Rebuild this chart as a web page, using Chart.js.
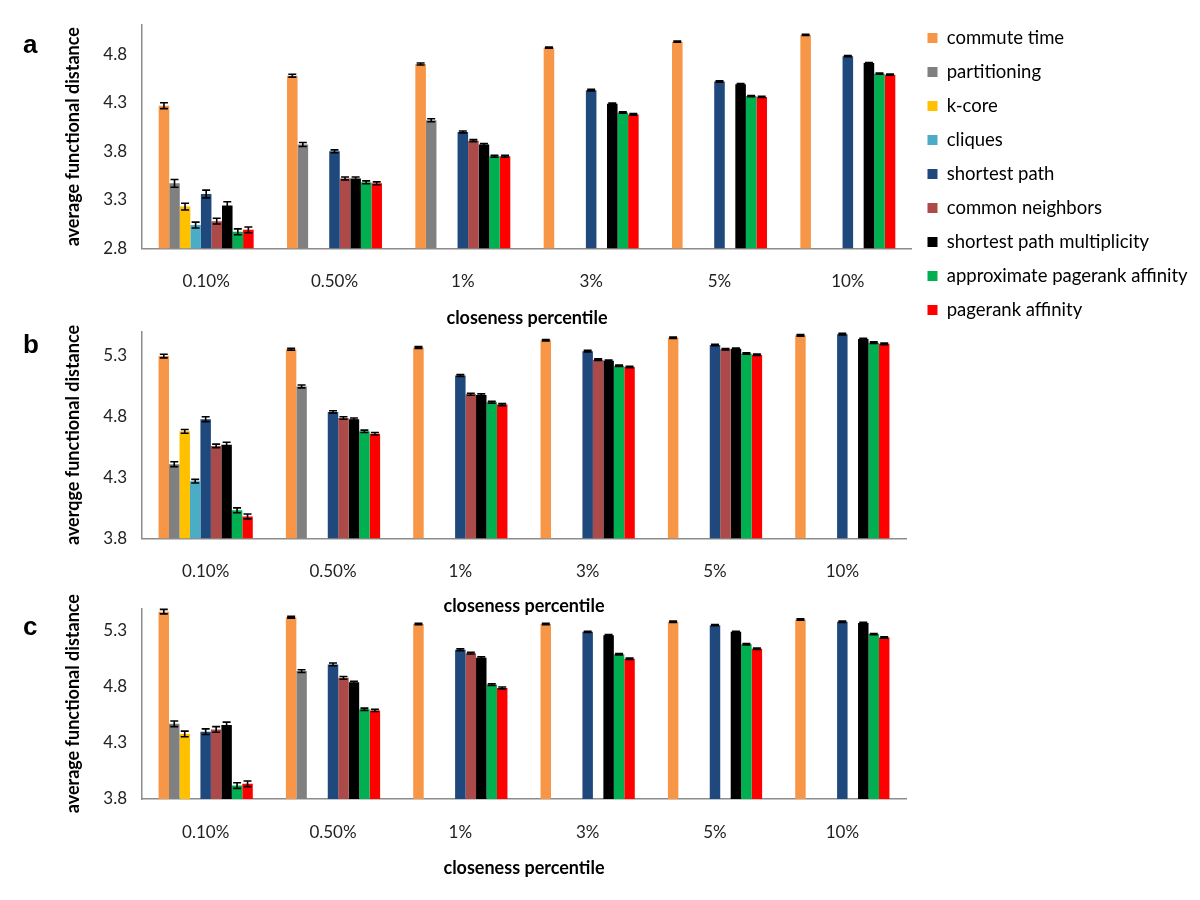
<!DOCTYPE html>
<html>
<head>
<meta charset="utf-8">
<script src="https://cdn.jsdelivr.net/npm/chart.js@4.4.0/dist/chart.umd.min.js"></script>
<style>
  html, body { margin: 0; padding: 0; background: #ffffff; }
  #wrap { position: relative; width: 1200px; height: 900px; overflow: hidden; }
  #wrap canvas { position: absolute; left: 0; top: 0; }
  .lbl { position: absolute; font: bold 26px "Liberation Sans", Arial, sans-serif; line-height: 26px; color: #000; }
</style>
</head>
<body>
<div id="wrap">
  <canvas id="ca" width="1200" height="900"></canvas>
  <canvas id="cb" width="1200" height="900"></canvas>
  <canvas id="cc" width="1200" height="900"></canvas>
  <div class="lbl" style="left:23px;top:31px">a</div>
  <div class="lbl" style="left:23px;top:331px">b</div>
  <div class="lbl" style="left:23px;top:613px">c</div>
</div>
<script>
// ---------------- DATA ----------------
const categories = ['0.10%', '0.50%', '1%', '3%', '5%', '10%'];
const seriesNames = ['commute time', 'partitioning', 'k-core', 'cliques', 'shortest path',
  'common neighbors', 'shortest path multiplicity', 'approximate pagerank affinity', 'pagerank affinity'];
const seriesColors = ['#F79646', '#808080', '#FFC000', '#4BACC6', '#1F497D',
  '#AB4A48', '#000000', '#00B050', '#FF0000'];

// panel a (rows follow seriesNames, columns follow categories)
const valuesA = [
  [4.27, 4.58, 4.70, 4.87, 4.93, 5.00],
  [3.47, 3.87, 4.12, null, null, null],
  [3.23, null, null, null, null, null],
  [3.04, null, null, null, null, null],
  [3.36, 3.80, 4.00, 4.43, 4.52, 4.78],
  [3.08, 3.52, 3.91, null, null, null],
  [3.24, 3.52, 3.87, 4.29, 4.49, 4.71],
  [2.97, 3.48, 3.75, 4.20, 4.37, 4.60],
  [2.99, 3.47, 3.75, 4.18, 4.36, 4.59]
];
const errorsA = [
  [0.03, 0.015, 0.01, 0.006, 0.006, 0.006],
  [0.04, 0.02, 0.015, null, null, null],
  [0.035, null, null, null, null, null],
  [0.03, null, null, null, null, null],
  [0.04, 0.015, 0.01, 0.008, 0.008, 0.006],
  [0.03, 0.015, 0.01, null, null, null],
  [0.04, 0.015, 0.01, 0.008, 0.008, 0.006],
  [0.03, 0.015, 0.01, 0.008, 0.006, 0.006],
  [0.03, 0.015, 0.01, 0.008, 0.006, 0.006]
];
const yTicksA = [2.8, 3.3, 3.8, 4.3, 4.8];

// panel b
const valuesB = [
  [5.30, 5.355, 5.37, 5.43, 5.45, 5.47],
  [4.41, 5.05, null, null, null, null],
  [4.68, null, null, null, null, null],
  [4.27, null, null, null, null, null],
  [4.78, 4.84, 5.14, 5.34, 5.39, 5.48],
  [4.56, 4.79, 4.985, 5.27, 5.355, null],
  [4.57, 4.78, 4.98, 5.26, 5.36, 5.44],
  [4.03, 4.68, 4.92, 5.22, 5.32, 5.41],
  [3.98, 4.66, 4.90, 5.21, 5.31, 5.40]
];
const errorsB = [
  [0.015, 0.008, 0.007, 0.006, 0.006, 0.006],
  [0.02, 0.012, null, null, null, null],
  [0.015, null, null, null, null, null],
  [0.015, null, null, null, null, null],
  [0.02, 0.01, 0.008, 0.006, 0.006, 0.006],
  [0.015, 0.01, 0.008, 0.006, 0.006, null],
  [0.02, 0.01, 0.008, 0.006, 0.006, 0.006],
  [0.02, 0.01, 0.008, 0.006, 0.006, 0.006],
  [0.02, 0.01, 0.008, 0.006, 0.006, 0.006]
];
const yTicksB = [3.8, 4.3, 4.8, 5.3];

// panel c
const valuesC = [
  [5.47, 5.42, 5.36, 5.36, 5.38, 5.40],
  [4.47, 4.94, null, null, null, null],
  [4.38, null, null, null, null, null],
  [null, null, null, null, null, null],
  [4.40, 5.00, 5.13, 5.29, 5.35, 5.38],
  [4.42, 4.88, 5.10, null, null, null],
  [4.46, 4.84, 5.06, 5.26, 5.29, 5.37],
  [3.92, 4.60, 4.82, 5.09, 5.18, 5.27],
  [3.935, 4.59, 4.79, 5.05, 5.14, 5.24]
];
const errorsC = [
  [0.02, 0.008, 0.006, 0.006, 0.006, 0.006],
  [0.025, 0.012, null, null, null, null],
  [0.025, null, null, null, null, null],
  [null, null, null, null, null, null],
  [0.025, 0.012, 0.008, 0.006, 0.006, 0.006],
  [0.025, 0.012, 0.008, null, null, null],
  [0.025, 0.01, 0.008, 0.006, 0.006, 0.006],
  [0.025, 0.01, 0.008, 0.006, 0.006, 0.006],
  [0.025, 0.01, 0.008, 0.006, 0.006, 0.006]
];
const yTicksC = [3.8, 4.3, 4.8, 5.3];

// ---------------- RENDERING ----------------
const FONT = 'Lato';
const AXIS_COLOR = '#8c8c8c';
const TICK_SIZE = 17, TITLE_SIZE = 18;

const errorBarPlugin = {
  id: 'errorBars',
  afterDatasetsDraw(chart) {
    const ctx = chart.ctx;
    const yScale = chart.scales.y;
    ctx.save();
    ctx.strokeStyle = '#000';
    ctx.lineWidth = 1.6;
    chart.data.datasets.forEach((ds, di) => {
      const meta = chart.getDatasetMeta(di);
      meta.data.forEach((bar, i) => {
        const v = ds.data[i];
        const e = ds.errors[i];
        if (v == null || e == null) return;
        const yt = yScale.getPixelForValue(v + e);
        const yb = yScale.getPixelForValue(v - e);
        const hw = 4;
        ctx.beginPath();
        ctx.moveTo(bar.x, yt); ctx.lineTo(bar.x, yb);
        ctx.moveTo(bar.x - hw, yt); ctx.lineTo(bar.x + hw, yt);
        ctx.moveTo(bar.x - hw, yb); ctx.lineTo(bar.x + hw, yb);
        ctx.stroke();
      });
    });
    ctx.restore();
  }
};

function measure(text, font) {
  const c = document.createElement('canvas').getContext('2d');
  c.font = font;
  return c.measureText(text).width;
}

function makePanel(id, values, errors, yTicks, yMin, yMax, yTitle, areaTop, areaBottom, xTitleCenter, withLegend) {
  const PLOT_LEFT = 142, PLOT_RIGHT = 906;
  const titleHalf = TITLE_SIZE * 1.2 / 2;
  const PAD_LEFT = 73 - titleHalf - 4;
  const legendFontSize = 18.5, legendPad = 15.5, legendBox = 10;
  // with the legend the legend column needs extra height; keep the x title where it belongs
  const scaleBottom = withLegend ? xTitleCenter + 27 : xTitleCenter + titleHalf + 4;
  const xTitlePadBottom = scaleBottom - xTitleCenter - titleHalf;
  let padTop = areaTop;
  let padRight = 1200 - PLOT_RIGHT;
  let titleOpts = { display: false };
  if (withLegend) {
    const legendLeft = 911;
    const maxText = Math.max(...seriesNames.map(n => measure(n, legendFontSize + 'px ' + FONT)));
    const legendWidth = legendPad + legendBox + legendFontSize / 2 + maxText + 10;
    padRight = Math.max(0, 1200 - legendLeft - legendWidth);
    padTop = 13.25; // legend column starts here; a thin empty title fills the gap to the plot top
    titleOpts = { display: true, text: ' ', font: { size: 5, lineHeight: 1.2 },
      padding: { top: areaTop - padTop - 6, bottom: 0 } };
  }
  const scales = {
    x: {
      afterFit: s => { s.height = scaleBottom - areaBottom; },
      grid: { display: false, drawTicks: false },
      border: { color: AXIS_COLOR, width: 1.5 },
      ticks: { font: { family: FONT, size: TICK_SIZE }, color: '#222', padding: 23.5, maxRotation: 0, autoSkip: false },
      title: { display: true, text: 'closeness percentile', color: '#000',
        font: { family: FONT, size: TITLE_SIZE, weight: 'bold' }, padding: { top: 4, bottom: xTitlePadBottom } }
    },
    y: {
      min: yMin, max: yMax,
      afterBuildTicks: s => { s.ticks = yTicks.map(v => ({ value: v })); },
      afterFit: s => { s.width = PLOT_LEFT - PAD_LEFT; },
      grid: { display: false, drawTicks: false },
      border: { color: AXIS_COLOR, width: 1.5 },
      ticks: { font: { family: FONT, size: TICK_SIZE }, color: '#222', padding: 15,
        callback: v => Number(v).toFixed(1) },
      title: { display: true, text: yTitle, color: '#000',
        font: { family: FONT, size: TITLE_SIZE, weight: 'bold' }, padding: { top: 4, bottom: 4 } }
    }
  };
  const datasets = seriesNames.map((name, si) => ({
    label: name,
    data: values[si],
    errors: errors[si],
    backgroundColor: seriesColors[si],
    borderWidth: 0,
    yAxisID: 'y',
    categoryPercentage: 0.74,
    barPercentage: 1.0
  }));
  return new Chart(document.getElementById(id), {
    type: 'bar',
    data: { labels: categories, datasets },
    options: {
      responsive: false,
      animation: false,
      devicePixelRatio: 1,
      layout: { padding: { top: padTop, bottom: 900 - scaleBottom, left: PAD_LEFT, right: padRight } },
      plugins: {
        title: titleOpts,
        legend: withLegend ? {
          display: true, position: 'right', align: 'start',
          labels: { boxWidth: legendBox, boxHeight: legendBox, padding: legendPad, color: '#000',
            font: { family: FONT, size: legendFontSize } }
        } : { display: false },
        tooltip: { enabled: false }
      },
      scales
    },
    plugins: [errorBarPlugin]
  });
}

makePanel('ca', valuesA, errorsA, yTicksA, 2.8, 5.1, 'average functional distance', 20, 248.3, 318, true);
makePanel('cb', valuesB, errorsB, yTicksB, 3.8, 5.5, 'averqge functional distance', 331.7, 538.3, 606, false);
makePanel('cc', valuesC, errorsC, yTicksC, 3.8, 5.5, 'average functional distance', 608.3, 799, 868, false);
</script>
</body>
</html>
